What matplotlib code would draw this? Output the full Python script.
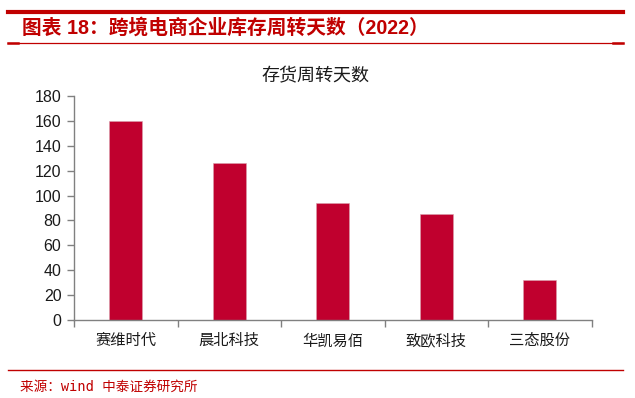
import matplotlib
matplotlib.use("Agg")
import matplotlib.pyplot as plt
from matplotlib.lines import Line2D

categories = ["赛维时代", "晨北科技", "华凯易佰", "致欧科技", "三态股份"]
values = [160, 126, 94, 85, 32]
yticks = [0, 20, 40, 60, 80, 100, 120, 140, 160, 180]

plt.rcParams['font.family'] = ['Liberation Sans', 'Noto Sans CJK SC', 'DejaVu Sans']

W, H = 635, 398
fig = plt.figure(figsize=(W / 100, H / 100), dpi=100)

def fx(px):
    return px / W

def fy(py):
    return 1 - py / H

ax = fig.add_axes([fx(74), fy(320), fx(591.5) - fx(74), fy(96) - fy(320)])
x = list(range(len(categories)))
ax.bar(x, values, width=0.32, color='#C0002E', edgecolor='#D9A0AC', linewidth=0.4, zorder=2)
ax.set_xlim(-0.5, len(categories) - 0.5)
ax.set_ylim(0, 180)
ax.set_yticks(yticks)
ax.set_yticklabels([str(v) for v in yticks], fontsize=11.5, color='#1a1a1a')
ax.set_xticks(x)
ax.set_xticklabels(categories, fontsize=11, color='#1a1a1a')
ax.tick_params(axis='x', length=0, pad=10)
ax.set_xticks([i - 0.5 for i in range(len(categories) + 1)], minor=True)
ax.tick_params(axis='x', which='minor', length=5, color='#808080', width=1)
ax.tick_params(axis='y', length=5, color='#808080', width=1, pad=4)
for s in ['top', 'right']:
    ax.spines[s].set_visible(False)
for s in ['left', 'bottom']:
    ax.spines[s].set_color('#808080')
    ax.spines[s].set_linewidth(1)

fig.text(fx(315.5), fy(76), "存货周转天数", fontsize=13, ha='center', va='center',
         color='#1a1a1a', family=['Noto Sans CJK SC', 'DejaVu Sans'])

red = '#C00000'
# header lines
fig.add_artist(Line2D([fx(8), fx(623)], [fy(12), fy(12)], color=red, linewidth=3.0, transform=fig.transFigure))
fig.add_artist(Line2D([fx(8), fx(623)], [fy(42.5), fy(42.5)], color=red, linewidth=0.9, transform=fig.transFigure))
fig.add_artist(Line2D([fx(8), fx(18)], [fy(43), fy(43)], color=red, linewidth=1.8, transform=fig.transFigure))
fig.add_artist(Line2D([fx(613), fx(623)], [fy(43), fy(43)], color=red, linewidth=1.8, transform=fig.transFigure))
fig.text(fx(22), fy(28), "图表 18：跨境电商企业库存周转天数（2022）", fontsize=14.2, fontweight='bold',
         ha='left', va='center', color=red, family=['Liberation Sans', 'Noto Sans CJK SC'])

# footer
fig.add_artist(Line2D([fx(8), fx(623)], [fy(370), fy(370)], color=red, linewidth=1.0, transform=fig.transFigure))
fig.text(fx(20), fy(386.5), "来源：wind 中泰证券研究所", fontsize=9.8, ha='left', va='center',
         color=red, family=['DejaVu Sans Mono', 'Noto Sans CJK SC'])

fig.savefig("out.png", dpi=100)
